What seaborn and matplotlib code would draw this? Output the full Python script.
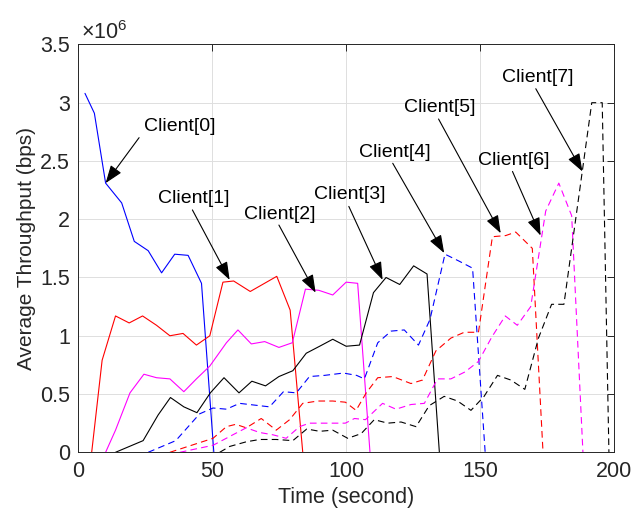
import matplotlib
matplotlib.use("Agg")
import matplotlib.pyplot as plt
import seaborn as sns
import pandas as pd
from matplotlib.ticker import FuncFormatter, MultipleLocator

# ---------------- data (time in s, throughput in bps) ----------------
clients = ["Client[0]", "Client[1]", "Client[2]", "Client[3]",
           "Client[4]", "Client[5]", "Client[6]", "Client[7]"]

t0 = [2.5, 6.0, 10.2, 16.2, 20.9, 26.1, 31.1, 36.0, 41.0, 46.0, 50.6]
y0 = [3.08e6, 2.91e6, 2.31e6, 2.14e6, 1.81e6, 1.73e6, 1.54e6, 1.70e6, 1.69e6, 1.45e6, 0]

t1 = [5.0, 8.9, 13.9, 19.0, 24.0, 29.2, 34.2, 39.1, 44.1, 49.1, 54.0, 58.0, 64.2, 74.1, 79.1, 83.8]
y1 = [0, 0.79e6, 1.17e6, 1.11e6, 1.17e6, 1.09e6, 1.00e6, 1.02e6, 0.92e6, 1.00e6, 1.46e6,
      1.47e6, 1.38e6, 1.51e6, 1.22e6, 0]

t2 = [10.2, 13.9, 19.3, 24.5, 29.2, 34.2, 39.4, 44.1, 49.1, 55.3, 59.6, 64.6, 69.6, 74.9,
      79.9, 84.8, 89.8, 95.0, 100.0, 104.3, 108.9]
y2 = [0, 0.19e6, 0.51e6, 0.67e6, 0.64e6, 0.63e6, 0.52e6, 0.63e6, 0.74e6, 0.94e6, 1.05e6,
      0.93e6, 0.95e6, 0.90e6, 0.94e6, 1.40e6, 1.39e6, 1.35e6, 1.46e6, 1.45e6, 0]

t3 = [13.9, 24.2, 29.8, 34.4, 39.4, 44.3, 49.3, 54.4, 60.0, 64.8, 69.9, 74.9, 80.1, 85.1,
      90.1, 95.0, 100.0, 105.0, 110.2, 114.9, 120.0, 125.2, 130.2, 134.8]
y3 = [0, 0.10e6, 0.32e6, 0.47e6, 0.39e6, 0.34e6, 0.51e6, 0.64e6, 0.51e6, 0.61e6, 0.57e6,
      0.65e6, 0.70e6, 0.85e6, 0.91e6, 0.97e6, 0.91e6, 0.92e6, 1.37e6, 1.50e6, 1.44e6,
      1.60e6, 1.53e6, 0]

t4 = [26.1, 36.4, 45.3, 50.3, 55.3, 60.2, 71.4, 76.6, 81.4, 86.3, 91.9, 99.0, 103.9, 106.8,
      111.8, 116.8, 121.7, 127.0, 131.3, 136.9, 142.2, 147.2, 151.9]
y4 = [0, 0.10e6, 0.33e6, 0.38e6, 0.37e6, 0.42e6, 0.39e6, 0.52e6, 0.51e6, 0.65e6, 0.66e6,
      0.68e6, 0.66e6, 0.63e6, 0.94e6, 1.04e6, 1.05e6, 0.92e6, 1.14e6, 1.70e6, 1.64e6,
      1.58e6, 0]

t5 = [34.2, 50.3, 55.3, 58.8, 62.7, 68.3, 73.9, 78.9, 83.8, 89.4, 95.0, 99.7, 103.7, 107.5,
      111.8, 117.4, 124.2, 128.5, 133.5, 139.1, 144.1, 149.4, 154.6, 159.6, 163.3, 169.5, 173.5]
y5 = [0, 0.12e6, 0.22e6, 0.24e6, 0.21e6, 0.29e6, 0.19e6, 0.28e6, 0.42e6, 0.44e6, 0.44e6,
      0.43e6, 0.36e6, 0.51e6, 0.64e6, 0.65e6, 0.59e6, 0.62e6, 0.87e6, 0.98e6, 1.03e6,
      1.03e6, 1.85e6, 1.86e6, 1.89e6, 1.75e6, 0]

t6 = [37.9, 50.3, 57.7, 62.7, 67.7, 72.7, 77.6, 82.6, 86.3, 92.5, 99.7, 103.1, 107.2, 113.6,
      118.6, 124.2, 129.2, 134.1, 139.1, 144.4, 149.4, 154.4, 159.4, 163.9, 168.9, 174.5,
      179.4, 184.2, 188.4]
y6 = [0, 0.06e6, 0.15e6, 0.21e6, 0.17e6, 0.15e6, 0.12e6, 0.22e6, 0.25e6, 0.25e6, 0.25e6,
      0.29e6, 0.28e6, 0.42e6, 0.37e6, 0.41e6, 0.42e6, 0.63e6, 0.63e6, 0.69e6, 0.78e6,
      0.99e6, 1.17e6, 1.09e6, 1.25e6, 2.07e6, 2.31e6, 2.03e6, 0]

t7 = [52.8, 56.5, 62.7, 67.7, 73.9, 80.1, 85.3, 90.1, 95.0, 100.6, 105.6, 110.5, 115.5, 120.5,
      126.1, 131.0, 136.6, 141.6, 146.6, 151.5, 156.5, 161.5, 166.7, 171.8, 176.7, 181.3,
      191.7, 195.6, 198.1]
y7 = [0, 0.05e6, 0.09e6, 0.11e6, 0.11e6, 0.10e6, 0.20e6, 0.18e6, 0.19e6, 0.12e6, 0.16e6,
      0.28e6, 0.25e6, 0.26e6, 0.22e6, 0.40e6, 0.48e6, 0.44e6, 0.36e6, 0.48e6, 0.66e6,
      0.62e6, 0.54e6, 0.98e6, 1.27e6, 1.27e6, 3.00e6, 3.00e6, 0]

times = [t0, t1, t2, t3, t4, t5, t6, t7]
values = [y0, y1, y2, y3, y4, y5, y6, y7]

# annotation label centre, arrow tail, arrow tip (data coords)
label_xy = [(37.9, 2.80e6), (43.1, 2.18e6), (75.3, 2.04e6), (101.4, 2.21e6),
            (118.2, 2.57e6), (135.1, 2.96e6), (162.7, 2.50e6), (171.5, 3.22e6)]
tail_xy = [(22.7, 2.70e6), (42.6, 2.08e6), (74.9, 1.95e6), (101.0, 2.11e6),
           (117.4, 2.48e6), (134.5, 2.86e6), (162.1, 2.41e6), (170.8, 3.12e6)]
tip_xy = [(10.2, 2.31e6), (56.5, 1.48e6), (88.6, 1.37e6), (113.6, 1.48e6),
          (136.6, 1.71e6), (157.7, 1.88e6), (172.6, 1.86e6), (188.2, 2.41e6)]

# ---------------- styling ----------------
sns.set_theme(style="white")
plt.rcParams["font.family"] = ["Liberation Sans", "DejaVu Sans"]
plt.rcParams["mathtext.fontset"] = "custom"
plt.rcParams["mathtext.rm"] = "Liberation Sans"
plt.rcParams["mathtext.it"] = "Liberation Sans"

colors = ["#0000FF", "#FF0000", "#FF00FF", "#000000",
          "#0000FF", "#FF0000", "#FF00FF", "#000000"]
palette = dict(zip(clients, colors))
dash = (6, 3.8)
dashes = {c: ("" if i < 4 else dash) for i, c in enumerate(clients)}

rows = []
for c, ts, ys in zip(clients, times, values):
    for t, v in zip(ts, ys):
        rows.append({"client": c, "time": t, "throughput": v})
df = pd.DataFrame(rows)

fig = plt.figure(figsize=(6.37, 5.29), dpi=100)
ax = fig.add_axes([0.1229, 0.145, 0.8410, 0.7710])

sns.lineplot(data=df, x="time", y="throughput", hue="client", style="client",
             palette=palette, dashes=dashes, estimator=None, sort=False,
             legend=False, linewidth=0.8, ax=ax)

ax.set_xlim(0, 200)
ax.set_ylim(0, 3.5e6)
ax.xaxis.set_major_locator(MultipleLocator(50))
ax.yaxis.set_major_locator(MultipleLocator(0.5e6))
ax.yaxis.set_major_formatter(FuncFormatter(lambda v, p: f"{v / 1e6:g}"))

ax.grid(True, color="#dedede", linewidth=0.7)
ax.set_axisbelow(True)
for s in ax.spines.values():
    s.set_color("#262626")
    s.set_linewidth(0.7)
ax.tick_params(direction="in", top=True, right=True, length=5, width=0.7,
               colors="#262626", labelsize=15.5, pad=6)
for lbl in ax.get_xticklabels() + ax.get_yticklabels():
    lbl.set_color("#262626")

ax.set_xlabel("Time (second)", fontsize=15.5, color="#262626", labelpad=4)
ax.set_ylabel("Average Throughput (bps)", fontsize=15, color="#262626", labelpad=3)

ax.text(0.005, 1.0, r"$\times10^{6}$", transform=ax.transAxes, fontsize=15.5,
        ha="left", va="bottom", color="#262626")

for c, lxy, txy, pxy in zip(clients, label_xy, tail_xy, tip_xy):
    ax.annotate("", xy=pxy, xytext=txy,
                arrowprops=dict(arrowstyle="-|>,head_length=0.55,head_width=0.2",
                                color="black", lw=0.8,
                                mutation_scale=20, shrinkA=0, shrinkB=0))
    ax.text(lxy[0], lxy[1], c, ha="center", va="center", fontsize=14, color="black")

fig.savefig("out.png", dpi=100)
